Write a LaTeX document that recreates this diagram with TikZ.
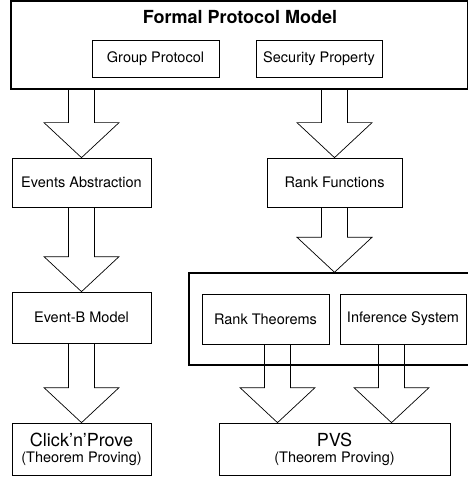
\documentclass[tikz,border=0pt]{standalone}
\usepackage{fontspec}
\setmainfont{TeX Gyre Heros}
\usetikzlibrary{calc}

\begin{document}
\begin{tikzpicture}[x=1pt,y=-1pt,
		box/.style={draw,line width=0.7pt,inner sep=0pt,font=\fontsize{14.5}{17}\selectfont},
		bigbox/.style={draw,line width=1.4pt,inner sep=0pt},
		fat/.style={draw,line width=0.7pt}]
		\newcommand{\headlen}{35pt}
		\newcommand{\fatarrow}[2]{% shaft from #1, tip at #2
			\draw[fat] let \p1=(#1), \p2=(#2) in
			(\x2-13pt,\y1) -- (\x2-13pt,\y2+\headlen) -- (\x2-37.5pt,\y2+\headlen) -- (\x2,\y2)
			-- (\x2+37.5pt,\y2+\headlen) -- (\x2+13pt,\y2+\headlen) -- (\x2+13pt,\y1);}
		\useasboundingbox (0,0) rectangle (467,478);
		% formal model
		\node[bigbox,minimum width=457pt,minimum height=88pt] (top) at (239.5,45) {};
		\node[font=\fontsize{18}{21}\selectfont\bfseries] (title) at (240,17) {Formal Protocol Model};
		\node[box,minimum width=127pt,minimum height=37pt] (gp) at (155.5,58.5) {Group Protocol};
		\node[box,minimum width=126pt,minimum height=37pt] (sp) at (319,58.5) {Security Property};
		% left column
		\node[box,minimum width=139pt,minimum height=49pt] (ev) at (81.5,182.5) {Events Abstraction};
		\node[box,minimum width=139pt,minimum height=51pt] (eb) at (81.5,317.5) {Event-B Model};
		\node[box,minimum width=139pt,minimum height=52pt,align=center] (ck) at (81.5,449)
			{{\fontsize{18}{20}\selectfont Click'n'Prove}\\[-1pt](Theorem Proving)};
		% right column
		\node[box,minimum width=135pt,minimum height=49pt] (rf) at (334.5,182.5) {Rank Functions};
		\node[bigbox,minimum width=281pt,minimum height=92pt] (grp) at (329.5,319) {};
		\node[box,minimum width=127pt,minimum height=50pt] (rt) at (265.5,319) {Rank Theorems};
		\node[box,minimum width=126pt,minimum height=50pt] (is) at (403,319) {Inference System};
		\node[box,minimum width=231pt,minimum height=52pt,align=center] (pvs) at (334.5,449)
			{{\fontsize{18}{20}\selectfont PVS}\\[-1pt](Theorem Proving)};
		% block arrows
		\fatarrow{top.south}{ev.north}
		\fatarrow{ev.south}{eb.north}
		\fatarrow{eb.south}{ck.north}
		\fatarrow{top.south}{rf.north}
		\fatarrow{rf.south}{grp.north -| rf.south}
		\fatarrow{rt.south}{$(pvs.north)+(-57,0)$}
		\fatarrow{is.south}{$(pvs.north)+(57,0)$}
	\end{tikzpicture}
\end{document}
